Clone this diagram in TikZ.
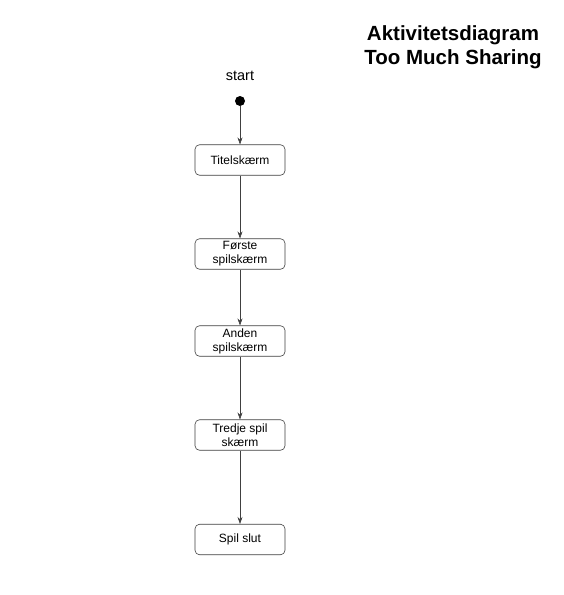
\documentclass[tikz,border=0pt]{standalone}
\usepackage{fontspec}
\setmainfont{Liberation Sans}
\usetikzlibrary{arrows.meta}
\begin{document}
\begin{tikzpicture}[x=1pt,y=-1pt,
  actbox/.style={draw=black!75, rounded corners=4.5pt, minimum width=90pt, minimum height=30.5pt, inner sep=1pt, align=center, font=\fontsize{12pt}{14pt}\selectfont, line width=0.6pt},
  flow/.style={draw=black!75, line width=0.6pt, -{Stealth[length=7pt,width=5pt]}}]
\useasboundingbox[fill=white] (0,0) rectangle (563,595);
\node[font=\fontsize{14.5pt}{17pt}\selectfont] (lbl) at (240,75.5) {start};
\node[circle, fill=black, inner sep=0pt, minimum size=10pt] (start) at (240,101) {};
\node[actbox] (t1) at (240,160) {Titelskærm};
\node[actbox] (t2) at (240,254) {Første\\spilskærm};
\node[actbox] (t3) at (240,341) {Anden\\spilskærm};
\node[actbox] (t4) at (240,435) {Tredje spil\\skærm};
\node[actbox] (t5) at (240,539.5) {Spil slut};
\draw[flow] (start) -- (t1);
\draw[flow] (t1) -- (t2);
\draw[flow] (t2) -- (t3);
\draw[flow] (t3) -- (t4);
\draw[flow] (t4) -- (t5);
\node[font=\bfseries\fontsize{20.5pt}{24pt}\selectfont, align=center] (title) at (453,47) {Aktivitetsdiagram\\Too Much Sharing};
\end{tikzpicture}
\end{document}
